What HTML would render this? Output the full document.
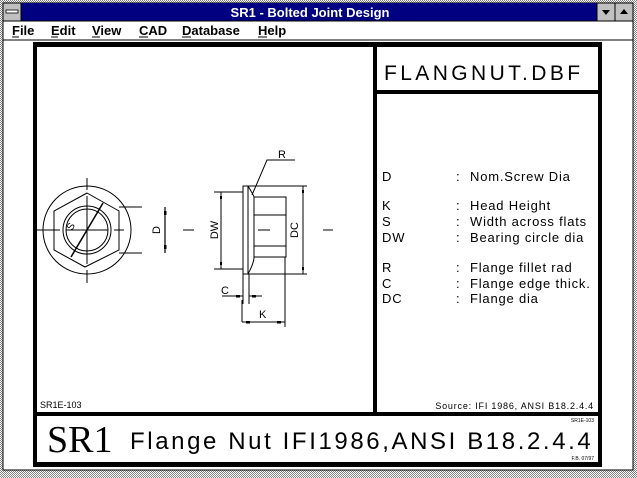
<!DOCTYPE html>
<html><head><style>
html,body{margin:0;padding:0;width:637px;height:478px;overflow:hidden;background:#fff}
svg{display:block}
text{font-family:"Liberation Sans",sans-serif}
</style></head><body>
<svg width="637" height="478" viewBox="0 0 637 478" xmlns="http://www.w3.org/2000/svg">
<defs><pattern id="h" width="2" height="2" patternUnits="userSpaceOnUse"><rect width="2" height="2" fill="#fff"/><rect width="1" height="1" fill="#808080"/><rect x="1" y="1" width="1" height="1" fill="#808080"/></pattern></defs>
<rect width="637" height="478" fill="url(#h)"/>
<rect x="3" y="3" width="630" height="467" fill="#fff" stroke="#000"/>
<rect x="3" y="3" width="630" height="18" fill="#000080"/>
<rect x="3" y="3" width="18" height="18" fill="#c0c0c0" stroke="#000"/>
<rect x="6" y="10" width="12" height="3" fill="#fff" stroke="#000" stroke-width="0.8"/>
<text x="310" y="17" fill="#fff" font-size="13" font-weight="bold" text-anchor="middle">SR1  -  Bolted Joint Design</text>
<rect x="597" y="3" width="18" height="18" fill="#c0c0c0" stroke="#000"/>
<rect x="615" y="3" width="18" height="18" fill="#c0c0c0" stroke="#000"/>
<path d="M602 10h8l-4 5z" fill="#000"/><path d="M620 14h8l-4-5z" fill="#000"/>
<line x1="3" y1="21" x2="633" y2="21" stroke="#000"/>
<line x1="3" y1="40" x2="633" y2="40" stroke="#000"/>
<g font-size="13" font-weight="bold" fill="#000">
<text x="12" y="35">File</text><text x="51" y="35">Edit</text><text x="92" y="35">View</text><text x="139" y="35">CAD</text><text x="182" y="35">Database</text><text x="258" y="35">Help</text>
</g>
<g stroke="#000" stroke-width="1"><line x1="12" y1="37" x2="19" y2="37"/><line x1="51" y1="37" x2="58" y2="37"/><line x1="92" y1="37" x2="100" y2="37"/><line x1="139" y1="37" x2="148" y2="37"/><line x1="182" y1="37" x2="191" y2="37"/><line x1="258" y1="37" x2="267" y2="37"/></g>
<g fill="#000">
<rect x="33" y="42" width="569" height="5"/>
<rect x="33" y="42" width="4" height="425"/>
<rect x="598" y="42" width="4" height="425"/>
<rect x="33" y="462" width="569" height="5"/>
<rect x="33" y="412" width="569" height="4"/>
<rect x="373" y="42" width="4" height="372"/>
<rect x="373" y="90" width="229" height="4"/>
</g>
<text x="384" y="80" font-size="21" letter-spacing="3.4" fill="#000">FLANGNUT.DBF</text>
<g font-size="13" fill="#000" letter-spacing="0.8">
<text x="382" y="181">D</text><text x="456" y="181">:</text><text x="470" y="181">Nom.Screw Dia</text>
<text x="382" y="210">K</text><text x="456" y="210">:</text><text x="470" y="210">Head Height</text>
<text x="382" y="226">S</text><text x="456" y="226">:</text><text x="470" y="226">Width across flats</text>
<text x="382" y="242">DW</text><text x="456" y="242">:</text><text x="470" y="242">Bearing circle dia</text>
<text x="382" y="272">R</text><text x="456" y="272">:</text><text x="470" y="272">Flange fillet rad</text>
<text x="382" y="288">C</text><text x="456" y="288">:</text><text x="470" y="288">Flange edge thick.</text>
<text x="382" y="303">DC</text><text x="456" y="303">:</text><text x="470" y="303">Flange dia</text>
</g>
<text x="40" y="408" font-size="9" fill="#000">SR1E-103</text>
<text x="594" y="409" font-size="9" fill="#000" text-anchor="end" letter-spacing="0.8">Source: IFI 1986, ANSI B18.2.4.4</text>
<text x="47" y="452" font-size="38" fill="#000" style="font-family:'Liberation Serif',serif">SR1</text>
<text x="130" y="449" font-size="24" letter-spacing="2.6" fill="#000">Flange Nut IFI1986,ANSI B18.2.4.4</text>
<text x="594" y="422" font-size="5" fill="#000" text-anchor="end">SR1E-103</text>
<text x="594" y="460" font-size="5" fill="#000" text-anchor="end">F.B. 07/97</text>
<g stroke="#000" stroke-width="1" fill="none">
<circle cx="87" cy="230" r="44"/>
<polygon points="87,193 119,211 119,250 85,267 54,250 54,211"/>
<circle cx="87" cy="230" r="24"/>
<circle cx="87" cy="230" r="21"/>
<line x1="37" y1="230" x2="60" y2="230"/><line x1="66" y1="230" x2="108" y2="230"/><line x1="114" y1="230" x2="124" y2="230"/>
<line x1="87" y1="178" x2="87" y2="190"/><line x1="87" y1="196" x2="87" y2="264"/><line x1="87" y1="270" x2="87" y2="283"/>
<line x1="71" y1="257" x2="103" y2="203" stroke-width="1.5"/>
<line x1="119" y1="207" x2="142" y2="207"/><line x1="119" y1="253" x2="142" y2="253"/>
<line x1="165" y1="207" x2="165" y2="253" stroke-width="1.2"/>
<line x1="183" y1="230" x2="194" y2="230"/><line x1="258" y1="230" x2="270" y2="230"/><line x1="323" y1="230" x2="333" y2="230"/>
<rect x="243" y="186" width="5" height="88"/>
<path d="M248 186 q6 10 6 11 v60 q0 6 -6 17"/>
<rect x="254" y="197" width="32" height="60"/>
<line x1="254" y1="215" x2="286" y2="215"/><line x1="254" y1="246" x2="286" y2="246"/>
<line x1="214" y1="192" x2="243" y2="192"/><line x1="214" y1="269" x2="243" y2="269"/>
<line x1="221" y1="192" x2="221" y2="269"/>
<line x1="248" y1="186" x2="307" y2="186"/><line x1="248" y1="274" x2="307" y2="274"/>
<line x1="303" y1="186" x2="303" y2="274"/>
<polyline points="252,195 267,160 295,160"/>
<line x1="243" y1="274" x2="243" y2="304"/><line x1="249" y1="274" x2="249" y2="304"/>
<line x1="222" y1="296" x2="243" y2="296"/><line x1="249" y1="296" x2="262" y2="296"/>
<line x1="242" y1="300" x2="242" y2="322"/><line x1="285" y1="257" x2="285" y2="327"/>
<line x1="242" y1="322" x2="285" y2="322"/>
</g>
<g fill="#000">
<rect x="164" y="211" width="2.5" height="4"/><rect x="164" y="245" width="2.5" height="4"/>
<rect x="220" y="196" width="2" height="3"/><rect x="220" y="262" width="2" height="3"/>
<rect x="302" y="190" width="2" height="3"/><rect x="302" y="267" width="2" height="3"/>
<rect x="236" y="295" width="4" height="2.5"/><rect x="252" y="295" width="4" height="2.5"/>
<rect x="246" y="321" width="4" height="2.5"/><rect x="277" y="321" width="4" height="2.5"/>
</g>
<g font-size="11" fill="#000">
<text x="278" y="158">R</text>
<text x="221" y="294">C</text>
<text x="259" y="318">K</text>
<text transform="translate(160,230) rotate(-90)" text-anchor="middle">D</text>
<text transform="translate(218,230) rotate(-90)" text-anchor="middle">DW</text>
<text transform="translate(298,230) rotate(-90)" text-anchor="middle">DC</text>
<text transform="translate(72,231) rotate(-60)" font-size="10">S</text>
</g>
</svg>
</body></html>
